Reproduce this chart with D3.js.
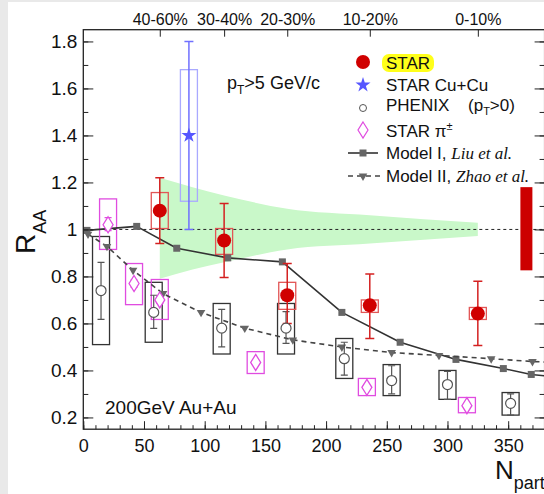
<!DOCTYPE html>
<html><head><meta charset="utf-8">
<script src="https://cdn.jsdelivr.net/npm/d3@7"></script>
<style>body{margin:0;background:#fff}svg{display:block}text{font-family:"Liberation Sans",Arial,sans-serif;fill:#111}</style>
</head><body>
<svg id="c" width="544" height="494"></svg>
<script>
// ---- data ----
const starNpart=[63,116,168,236,325];
const starR=[1.08,0.953,0.72,0.677,0.642];
const starErrLo=[0.94,0.796,0.60,0.536,0.506];
const starErrHi=[1.22,1.11,0.855,0.81,0.78];
const starSysLo=[1.004,0.894,0.66,0.647,0.617];
const starSysHi=[1.157,1.004,0.775,0.70,0.668];

const cuNpart=[87];
const cuR=[1.4];
const cuErrLo=[1.0];
const cuErrHi=[1.8];
const cuSysLo=[1.12];
const cuSysHi=[1.68];

const phenixNpart=[14.6,58,114,167,215,254,300,352];
const phenixR=[0.74,0.647,0.58,0.58,0.45,0.357,0.34,0.26];
const phenixErrLo=[0.617,0.579,0.50,0.515,0.38,0.30,0.277,0.21];
const phenixErrHi=[0.86,0.72,0.66,0.65,0.52,0.42,0.396,0.30];
const phenixSysLo=[0.51,0.52,0.47,0.47,0.366,0.293,0.277,0.21];
const phenixSysHi=[0.97,0.775,0.685,0.685,0.536,0.425,0.40,0.306];

const pionNpart=[20.4,41.8,63,142,233.6,316];
const pionR=[1.02,0.77,0.70,0.434,0.328,0.25];
const pionErrLo=[0.995,0.755,0.685,0.425,0.32,0.243];
const pionErrHi=[1.05,0.785,0.715,0.443,0.336,0.257];
const pionSysLo=[0.915,0.68,0.617,0.387,0.293,0.22];
const pionSysHi=[1.13,0.855,0.787,0.48,0.366,0.285];

const model1Npart=[3,44,77,119,164,213,261,307,346,369,385];
const model1R=[0.996,1.013,0.92,0.879,0.862,0.647,0.52,0.447,0.408,0.383,0.375];

const model2Npart=[3.9,19.5,41,65.7,97,133,172.6,213,254,293,336,370,385];
const model2R=[0.98,0.928,0.826,0.727,0.647,0.58,0.53,0.50,0.476,0.464,0.45,0.438,0.435];

const bandNpart=[63,90,116,168,236,325];
const bandHi=[1.22,1.18,1.145,1.088,1.06,1.028];
const bandLo=[0.79,0.83,0.86,0.915,0.94,0.972];

const normNpart=365, normLo=0.826, normHi=1.18;

const xTicks=[0,50,100,150,200,250,300,350];
const xTickLabels=["0","50","100","150","200","250","300","350"];
const yTicks=[0.2,0.4,0.6,0.8,1.0,1.2,1.4,1.6,1.8];
const yTickLabels=["0.2","0.4","0.6","0.8","1","1.2","1.4","1.6","1.8"];
const centTicks=[63,116,168,236,325];
const centLabels=["40-60%","30-40%","20-30%","10-20%","0-10%"];

// ---- setup ----
const W=544,H=494;
const svg=d3.select("#c");
svg.append("rect").attr("width",W).attr("height",H).attr("fill","#e9e9e9");
svg.append("rect").attr("x",8).attr("y",2).attr("width",W-8).attr("height",H-2).attr("fill","#fff");
const x=d3.scaleLinear().domain([0,380]).range([83.3,544.6]);
const y=d3.scaleLinear().domain([0.15,1.85]).range([429.2,29.7]);
const L=x(0),R=x(380),T=y(1.85),B=y(0.15);
svg.append("defs").append("clipPath").attr("id","clip").append("rect")
  .attr("x",L).attr("y",T).attr("width",R-L).attr("height",B-T);
const plot=svg.append("g").attr("clip-path","url(#clip)");

// band
const bandData=bandNpart.map((n,i)=>({n,lo:bandLo[i],hi:bandHi[i]}));
plot.append("path").datum(bandData)
  .attr("d",d3.area().x(d=>x(d.n)).y0(d=>y(d.lo)).y1(d=>y(d.hi)).curve(d3.curveMonotoneX))
  .attr("fill","#c9f8c9");

// unity line
plot.append("line").attr("x1",L).attr("x2",R).attr("y1",y(1)).attr("y2",y(1))
  .attr("stroke","#222").attr("stroke-width",1).attr("stroke-dasharray","3,3");

// normalization bar
plot.append("rect").attr("x",x(normNpart)-6).attr("width",12)
  .attr("y",y(normHi)).attr("height",y(normLo)-y(normHi)).attr("fill","#cc0000");

function boxes(ns,lo,hi,w,color,sw){
  plot.append("g").selectAll("rect").data(ns).join("rect")
    .attr("x",d=>x(d)-w/2).attr("width",w)
    .attr("y",(d,i)=>y(hi[i])).attr("height",(d,i)=>y(lo[i])-y(hi[i]))
    .attr("fill","none").attr("stroke",color).attr("stroke-width",sw);
}
function errbars(ns,lo,hi,cap,color,sw){
  const g=plot.append("g").attr("stroke",color).attr("stroke-width",sw);
  ns.forEach((n,i)=>{
    const cx=x(n);
    g.append("line").attr("x1",cx).attr("x2",cx).attr("y1",y(lo[i])).attr("y2",y(hi[i]));
    g.append("line").attr("x1",cx-cap/2).attr("x2",cx+cap/2).attr("y1",y(lo[i])).attr("y2",y(lo[i]));
    g.append("line").attr("x1",cx-cap/2).attr("x2",cx+cap/2).attr("y1",y(hi[i])).attr("y2",y(hi[i]));
  });
}

// systematic boxes
boxes(phenixNpart,phenixSysLo,phenixSysHi,17,"#333",1.3);
boxes(pionNpart,pionSysLo,pionSysHi,17,"#e04ce0",1.3);
boxes(cuNpart,cuSysLo,cuSysHi,17,"#a9a9ff",1.3);
boxes(starNpart,starSysLo,starSysHi,17,"#e25656",1.3);

// models
const m1=model1Npart.map((n,i)=>[x(n),y(model1R[i])]);
plot.append("path").attr("d",d3.line()(m1))
  .attr("fill","none").attr("stroke","#333").attr("stroke-width",1.6).attr("stroke-linejoin","round");
plot.append("g").selectAll("rect").data(m1).join("rect")
  .attr("x",d=>d[0]-3.5).attr("y",d=>d[1]-3.5).attr("width",7).attr("height",7).attr("fill","#666");

const m2=model2Npart.map((n,i)=>[x(n),y(model2R[i])]);
plot.append("path").attr("d",d3.line()(m2))
  .attr("fill","none").attr("stroke","#444").attr("stroke-width",1.6).attr("stroke-dasharray","5,4");
const tri=d3.symbol().type(d3.symbolTriangle).size(32);
plot.append("g").selectAll("path").data(m2).join("path")
  .attr("d",tri).attr("transform",d=>`translate(${d[0]},${d[1]}) rotate(180)`).attr("fill","#666");

// error bars
errbars(phenixNpart,phenixErrLo,phenixErrHi,7,"#555",1.2);
errbars(pionNpart,pionErrLo,pionErrHi,7,"#e04ce0",1.2);
errbars(cuNpart,cuErrLo,cuErrHi,9,"#7070ff",1.5);
errbars(starNpart,starErrLo,starErrHi,9,"#d42020",1.5);

// markers
plot.append("g").selectAll("circle").data(phenixNpart).join("circle")
  .attr("cx",d=>x(d)).attr("cy",(d,i)=>y(phenixR[i])).attr("r",5)
  .attr("fill","#fff").attr("stroke","#555").attr("stroke-width",1.2);
const diamond=(cx,cy)=>`M${cx},${cy-8}L${cx+5},${cy}L${cx},${cy+8}L${cx-5},${cy}Z`;
plot.append("g").selectAll("path").data(pionNpart).join("path")
  .attr("d",(d,i)=>diamond(x(d),y(pionR[i])))
  .attr("fill","#fff").attr("stroke","#e04ce0").attr("stroke-width",1.3);
const star=d3.symbol().type(d3.symbolStar).size(70);
plot.append("g").selectAll("path").data(cuNpart).join("path")
  .attr("d",star).attr("transform",(d,i)=>`translate(${x(d)},${y(cuR[i])})`).attr("fill","#5656ff");
plot.append("g").selectAll("circle").data(starNpart).join("circle")
  .attr("cx",d=>x(d)).attr("cy",(d,i)=>y(starR[i])).attr("r",7).attr("fill","#d00000");

// ---- axes ----
function styleAxis(g){
  g.attr("font-family","Liberation Sans, Arial, sans-serif");
  g.select(".domain").remove();
  g.selectAll("line").attr("stroke","#222");
  g.selectAll("text").attr("fill","#111");
}
const yMinor=d3.range(2,19).map(v=>v/10);
const xMinor=d3.range(0,381,10);
svg.append("g").attr("transform",`translate(${L},0)`)
  .call(d3.axisLeft(y).tickValues(yMinor).tickFormat("").tickSize(-5).tickSizeOuter(0)).call(styleAxis);
svg.append("g").attr("transform",`translate(${L},0)`)
  .call(d3.axisLeft(y).tickValues(yTicks).tickFormat((d,i)=>yTickLabels[i]).tickSize(-10).tickSizeOuter(0).tickPadding(6))
  .call(styleAxis).attr("font-size",19);
svg.append("g").attr("transform",`translate(${R},0)`)
  .call(d3.axisRight(y).tickValues(yMinor).tickFormat("").tickSize(-5).tickSizeOuter(0)).call(styleAxis);
svg.append("g").attr("transform",`translate(${R},0)`)
  .call(d3.axisRight(y).tickValues(yTicks).tickFormat("").tickSize(-10).tickSizeOuter(0)).call(styleAxis);
svg.append("g").attr("transform",`translate(0,${B})`)
  .call(d3.axisBottom(x).tickValues(xMinor).tickFormat("").tickSize(-4).tickSizeOuter(0)).call(styleAxis);
svg.append("g").attr("transform",`translate(0,${B})`)
  .call(d3.axisBottom(x).tickValues(xTicks).tickFormat((d,i)=>xTickLabels[i]).tickSize(-8).tickSizeOuter(0).tickPadding(10))
  .call(styleAxis).attr("font-size",18);
svg.append("g").attr("transform",`translate(0,${T})`)
  .call(d3.axisTop(x).tickValues(centTicks).tickFormat((d,i)=>centLabels[i]).tickSize(-7).tickSizeOuter(0).tickPadding(5))
  .call(styleAxis).attr("font-size",16);

// frame
svg.append("rect").attr("x",L).attr("y",T).attr("width",R-L).attr("height",B-T)
  .attr("fill","none").attr("stroke","#222").attr("stroke-width",1.3);

// axis titles
const yt=svg.append("text").attr("transform","translate(35,254) rotate(-90)").attr("font-size",28);
yt.append("tspan").text("R");
yt.append("tspan").attr("font-size",18).attr("dy",11).text("AA");
const xt=svg.append("text").attr("x",495).attr("y",479).attr("font-size",26);
xt.append("tspan").text("N");
xt.append("tspan").attr("font-size",18).attr("dy",10).text("part");

// annotations
const pt=svg.append("text").attr("x",227).attr("y",89).attr("font-size",18);
pt.append("tspan").text("p");
pt.append("tspan").attr("font-size",12).attr("dy",5).text("T");
pt.append("tspan").attr("dy",-5).text(">5 GeV/c");
svg.append("text").attr("x",105).attr("y",414).attr("font-size",19).text("200GeV Au+Au");

// legend
const lx=363, tx=386, fs=17;
svg.append("rect").attr("x",382).attr("y",54).attr("width",52).attr("height",18).attr("rx",7).attr("fill","#ffff1a");
svg.append("circle").attr("cx",lx).attr("cy",62).attr("r",7).attr("fill","#d00000");
svg.append("text").attr("x",tx).attr("y",69).attr("font-size",fs).text("STAR");
svg.append("path").attr("d",star).attr("transform",`translate(${lx},85)`).attr("fill","#5656ff");
svg.append("text").attr("x",tx).attr("y",91).attr("font-size",fs).text("STAR Cu+Cu");
svg.append("circle").attr("cx",lx).attr("cy",108).attr("r",3.5).attr("fill","#fff").attr("stroke","#555").attr("stroke-width",1);
svg.append("text").attr("x",tx).attr("y",111).attr("font-size",fs).text("PHENIX");
const ph=svg.append("text").attr("x",468).attr("y",111).attr("font-size",fs);
ph.append("tspan").text("(p");
ph.append("tspan").attr("font-size",11).attr("dy",4).text("T");
ph.append("tspan").attr("dy",-4).text(">0)");
svg.append("path").attr("d",diamond(lx,130)).attr("fill","#fff").attr("stroke","#e04ce0").attr("stroke-width",1.2);
const pi=svg.append("text").attr("x",tx).attr("y",137).attr("font-size",fs);
pi.append("tspan").text("STAR π");
pi.append("tspan").attr("font-size",11).attr("dy",-7).text("±");
svg.append("line").attr("x1",348).attr("x2",378).attr("y1",153).attr("y2",153).attr("stroke","#333").attr("stroke-width",1.6);
svg.append("rect").attr("x",lx-3.5).attr("y",149.5).attr("width",7).attr("height",7).attr("fill","#666");
const m1t=svg.append("text").attr("x",tx).attr("y",159).attr("font-size",fs);
m1t.append("tspan").text("Model I, ");
m1t.append("tspan").attr("font-family","Liberation Serif, Times New Roman, serif").attr("font-style","italic").text("Liu et al.");
svg.append("line").attr("x1",348).attr("x2",380).attr("y1",176).attr("y2",176).attr("stroke","#444").attr("stroke-width",1.6).attr("stroke-dasharray","5,4");
svg.append("path").attr("d",tri).attr("transform",`translate(${lx},176) rotate(180)`).attr("fill","#666");
const m2t=svg.append("text").attr("x",tx).attr("y",182).attr("font-size",fs);
m2t.append("tspan").text("Model II, ");
m2t.append("tspan").attr("font-family","Liberation Serif, Times New Roman, serif").attr("font-style","italic").text("Zhao et al.");
</script>
</body></html>
